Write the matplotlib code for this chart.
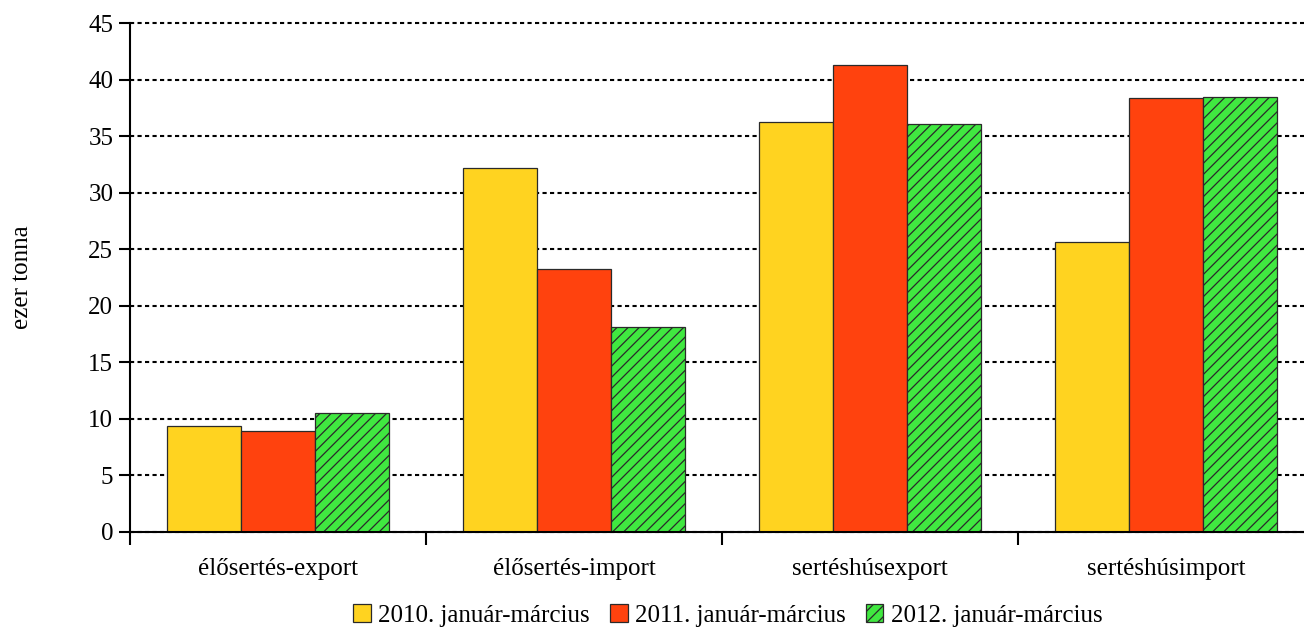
import matplotlib
matplotlib.use("Agg")
import matplotlib.pyplot as plt
import numpy as np

plt.rcParams["font.family"] = ["Liberation Serif", "DejaVu Serif"]
plt.rcParams["hatch.linewidth"] = 0.9

# Data
categories = ["élősertés-export", "élősertés-import", "sertéshúsexport", "sertéshúsimport"]
series_names = ["2010. január-március", "2011. január-március", "2012. január-március"]
values_2010 = [9.37, 32.2, 36.25, 25.6]
values_2011 = [8.93, 23.25, 41.3, 38.4]
values_2012 = [10.5, 18.1, 36.1, 38.5]
colors = ["#FFD320", "#FF420E", "#40E840"]
hatches = [None, None, "///"]

fig = plt.figure(figsize=(13.04, 6.34), dpi=100)
# plot area runs slightly past the right edge of the image, as in the original
ax = fig.add_axes([0.0997, 0.161, 0.908, 0.8027])

x = np.arange(len(categories))
width = 0.25
all_values = [values_2010, values_2011, values_2012]
for i, vals in enumerate(all_values):
    ax.bar(x + (i - 1) * width, vals, width, color=colors[i], edgecolor="#2a2a2a",
           linewidth=0.9, hatch=hatches[i], label=series_names[i], zorder=3)

ax.set_xlim(-0.5, len(categories) - 0.5)
ax.set_ylim(0, 45)
ax.set_yticks(np.arange(0, 46, 5))
ax.set_xticks(np.arange(-0.5, len(categories), 1.0))
ax.set_xticklabels([])
ax.set_xticks(x, minor=True)
ax.set_xticklabels(categories, minor=True, fontsize=18)
ax.tick_params(axis="x", which="minor", length=0, pad=19)
ax.tick_params(axis="x", which="major", length=9, width=1.5, direction="out")
ax.tick_params(axis="y", length=8, width=1.5, direction="out", labelsize=18, pad=4)

ax.yaxis.grid(True, linestyle=(0, (2, 1.6)), color="black", linewidth=1.5, zorder=0)
for gl in ax.get_ygridlines():
    gl.set_clip_on(False)
for s in ["top", "right"]:
    ax.spines[s].set_visible(False)
ax.spines["left"].set_linewidth(1.5)
ax.spines["bottom"].set_linewidth(1.5)
ax.spines["bottom"].set_zorder(5)

ax.set_ylabel("ezer tonna", fontsize=18, labelpad=40)

ax.legend(loc="upper center", bbox_to_anchor=(0.505, -0.098), ncol=3,
          frameon=False, fontsize=18, handlelength=0.7, handleheight=0.7,
          handletextpad=0.3, columnspacing=0.8)

fig.savefig("out.png", dpi=100)
